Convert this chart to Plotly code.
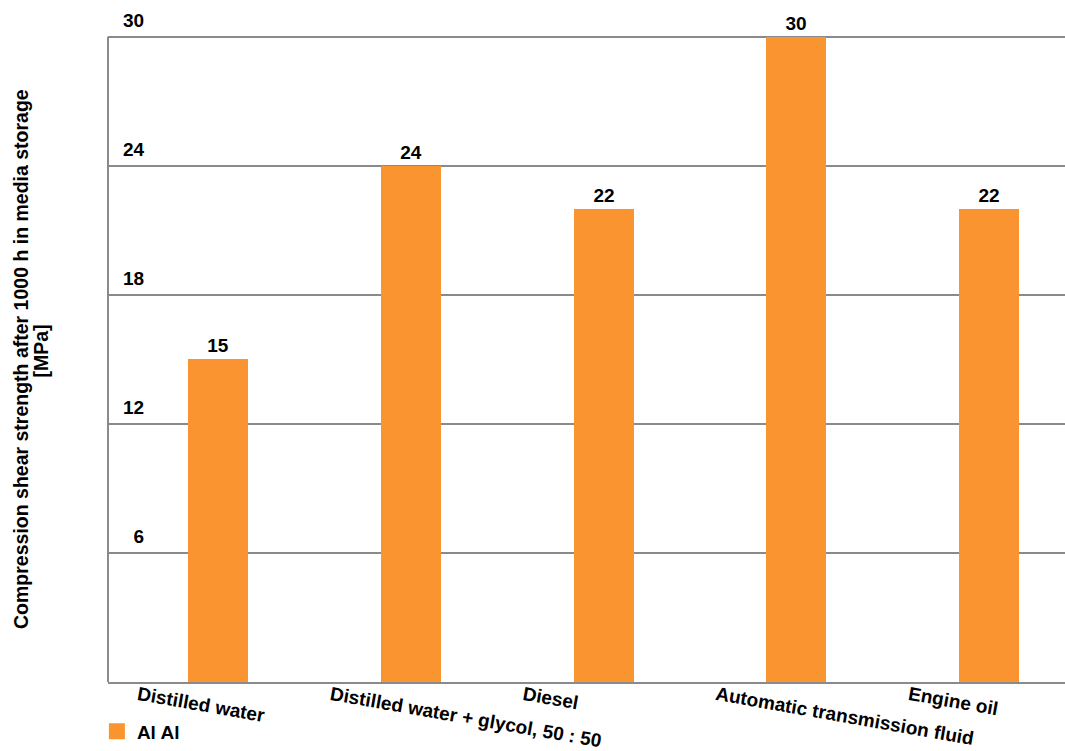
import plotly.graph_objects as go

categories = ["Distilled water", "Distilled water + glycol, 50 : 50", "Diesel",
              "Automatic transmission fluid", "Engine oil"]
values = [15, 24, 22, 30, 22]
series_name = "Al Al"
y_ticks = [6, 12, 18, 24, 30]
y_max = 30
y_title = ["Compression shear strength after 1000 h in media storage", "[MPa]"]

BAR = "#FA9431"
GRID = "#8a8a8a"
FONT = "Liberation Sans, Arial, sans-serif"
FS = 19

fig = go.Figure()
fig.add_trace(go.Bar(
    x=list(range(len(categories))), y=values, name=series_name,
    marker=dict(color=BAR, line=dict(width=0)),
    width=0.311, showlegend=False,
    text=values, texttemplate="<b>%{text}</b>", textposition="outside",
    textfont=dict(family=FONT, size=FS, color="black"),
    cliponaxis=False,
))
# legend entry with a larger square swatch
fig.add_trace(go.Scatter(
    x=[None], y=[None], mode="markers", name="<b>%s</b>" % series_name,
    marker=dict(symbol="square", size=20, color=BAR),
))

# y-axis title drawn as two rotated lines (tighter line spacing than <br>)
title_ann = [
    dict(text="<b>%s</b>" % y_title[0], xref="paper", yref="paper", x=-0.0909, y=0.48,
         xanchor="center", yanchor="middle", textangle=-90, showarrow=False,
         font=dict(family=FONT, size=19.5, color="black")),
    dict(text="<b>%s</b>" % y_title[1], xref="paper", yref="paper", x=-0.070, y=0.491,
         xanchor="center", yanchor="middle", textangle=-90, showarrow=False,
         font=dict(family=FONT, size=19.5, color="black")),
]

fig.update_layout(
    width=1065, height=751,
    margin=dict(l=108, r=0, t=9, b=69),
    plot_bgcolor="white", paper_bgcolor="white",
    font=dict(family=FONT, size=FS, color="black"),
    showlegend=True,
    legend=dict(x=-0.0116, y=-0.045, xanchor="left", yanchor="top",
                font=dict(family=FONT, size=FS, color="black"),
                bgcolor="rgba(0,0,0,0)", itemsizing="trace"),
    bargap=0,
    shapes=[dict(type="line", xref="paper", yref="y", x0=0, x1=0, y0=0, y1=y_max,
                 line=dict(color=GRID, width=2))],
    annotations=title_ann,
)
fig.update_xaxes(
    range=[-0.571, 4.394], automargin=False,
    tickmode="array", tickvals=list(range(len(categories))),
    ticktext=["<b>%s</b>" % c for c in categories],
    tickangle=10, ticks="", ticklabelshift=-80, ticklabelstandoff=-7,
    showline=True, linecolor=GRID, linewidth=2, mirror=False,
    showgrid=False, zeroline=False,
    tickfont=dict(family=FONT, size=FS, color="black"),
)
fig.update_yaxes(
    range=[0, y_max * 1.043], automargin=False,
    tickmode="array", tickvals=y_ticks,
    ticktext=["<b>%s</b>" % (("\u2007" + str(v)) if v < 10 else str(v)) for v in y_ticks],
    ticklabelposition="inside top", ticks="", ticklabelstandoff=12, ticklabelshift=-3,
    showline=False,
    showgrid=True, gridcolor=GRID, gridwidth=2, zeroline=False,
    tickfont=dict(family=FONT, size=FS, color="black"),
)

fig.write_html("out.html", config={"displayModeBar": False},
               post_script="document.body.style.margin='0';document.body.style.overflow='hidden';")
